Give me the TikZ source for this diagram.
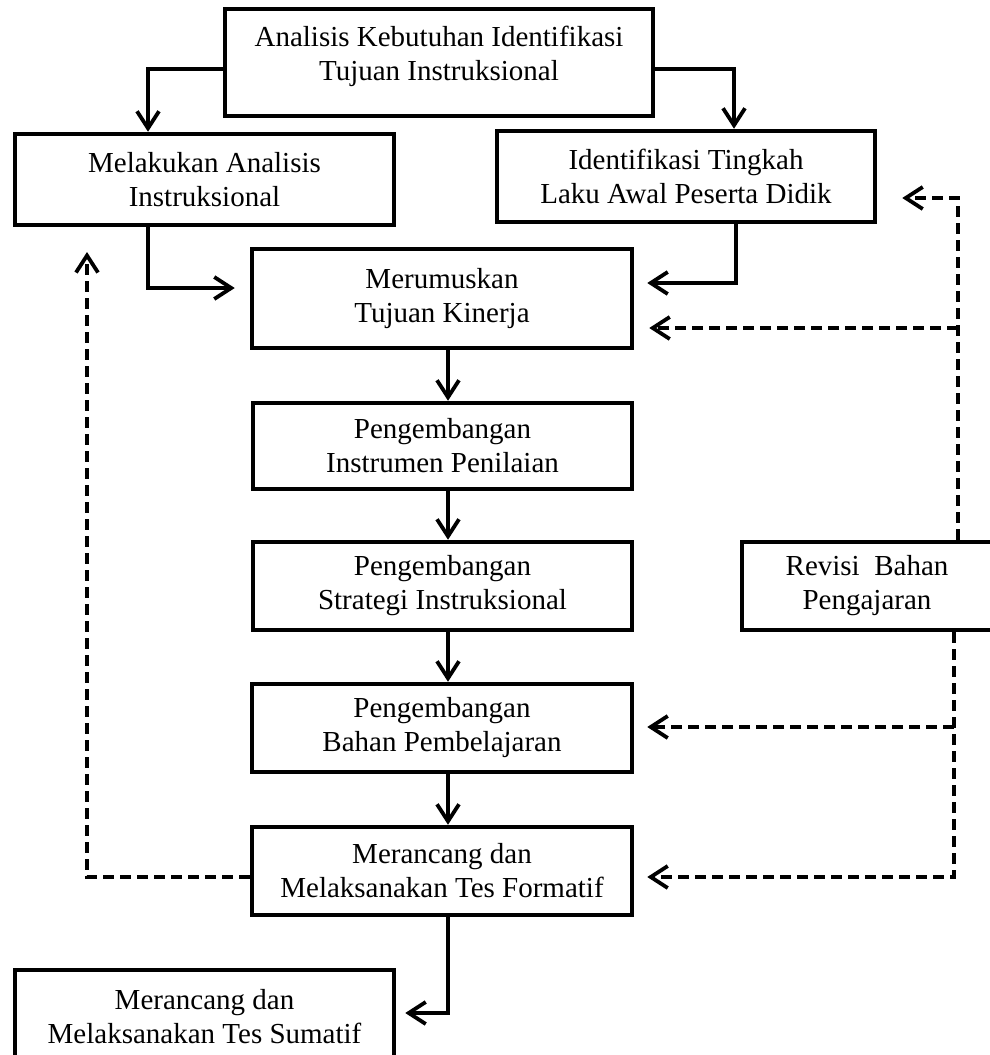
\documentclass[tikz,border=0pt]{standalone}
\usepackage{fontspec}
\setmainfont{Liberation Serif}
\usetikzlibrary{arrows.meta}
\begin{document}
\begin{tikzpicture}[x=1pt,y=-1pt,
  box/.style={draw, line width=4.5pt, inner sep=0pt, align=center,
    font=\fontsize{29}{34}\selectfont},
  conn/.style={line width=3.8pt, line cap=butt, -{Straight Barb[length=17pt,width=22pt]}},
  dconn/.style={conn, dash pattern=on 11pt off 6pt}]
\useasboundingbox (0,0) rectangle (989,1055);
% boxes
\node[box, minimum width=428pt, minimum height=107pt, text depth=18pt] (top) at (439,62.5)
  {Analisis Kebutuhan Identifikasi\\Tujuan Instruksional};
\node[box, minimum width=379pt, minimum height=91pt] (left) at (204.5,179.5)
  {Melakukan Analisis\\Instruksional};
\node[box, minimum width=378pt, minimum height=91pt] (ident) at (686,176.5)
  {Identifikasi Tingkah\\Laku Awal Peserta Didik};
\node[box, minimum width=380pt, minimum height=99pt] (merum) at (442,298.5)
  {Merumuskan\\Tujuan Kinerja};
\node[box, minimum width=379pt, minimum height=86pt] (instr) at (442.5,446)
  {Pengembangan\\Instrumen Penilaian};
\node[box, minimum width=379pt, minimum height=88pt] (strat) at (442.5,586)
  {Pengembangan\\Strategi Instruksional};
\node[box, minimum width=380pt, minimum height=88pt] (bahan) at (442,728)
  {Pengembangan\\Bahan Pembelajaran};
\node[box, minimum width=380pt, minimum height=88pt] (formatif) at (442,871)
  {Merancang dan\\Melaksanakan Tes Formatif};
\node[box, minimum width=379pt, minimum height=93pt] (sumatif) at (204.5,1016.5)
  {Merancang dan\\Melaksanakan Tes Sumatif};
\node[box, minimum width=250pt, minimum height=88pt] (revisi) at (867,586)
  {Revisi\ \ Bahan\\Pengajaran};
% helper coordinates
\coordinate (tl) at (148,69);
\coordinate (tr) at (734,69);
\coordinate (lb) at (148,288);
\coordinate (ib) at (736,283);
\coordinate (cx) at (448,0);
\coordinate (fb) at (448,1013);
\coordinate (rt) at (958,198);
\coordinate (rm) at (958,328);
\coordinate (rb) at (954,877);
\coordinate (rbm) at (954,727);
\coordinate (lf) at (87,877);
\coordinate (ltip) at (87,252);
% solid connectors
\draw[conn] (top.west |- tl) -| (tl |- left.north);
\draw[conn] (top.east |- tr) -| (tr |- ident.north);
\draw[conn, shorten >=15pt] (left.south -| lb) |- (merum.west |- lb);
\draw[conn, shorten >=13pt] (ident.south -| ib) |- (merum.east |- ib);
\draw[conn] (merum.south -| cx) -- (instr.north -| cx);
\draw[conn] (instr.south -| cx) -- (strat.north -| cx);
\draw[conn] (strat.south -| cx) -- (bahan.north -| cx);
\draw[conn] (bahan.south -| cx) -- (formatif.north -| cx);
\draw[conn, shorten >=9pt] (formatif.south -| fb) |- (sumatif.east |- fb);
% dashed feedback
\draw[dconn, shorten >=25pt] (revisi.north -| rt) |- (ident.east |- rt);
\draw[dconn, shorten >=15pt] (rm) -- (merum.east |- rm);
\draw[dconn, shorten >=13pt] (revisi.south -| rb) |- (formatif.east |- rb);
\draw[dconn, shorten >=13pt] (rbm) -- (bahan.east |- rbm);
\draw[dconn] (formatif.west |- lf) -| (ltip);
\end{tikzpicture}
\end{document}
